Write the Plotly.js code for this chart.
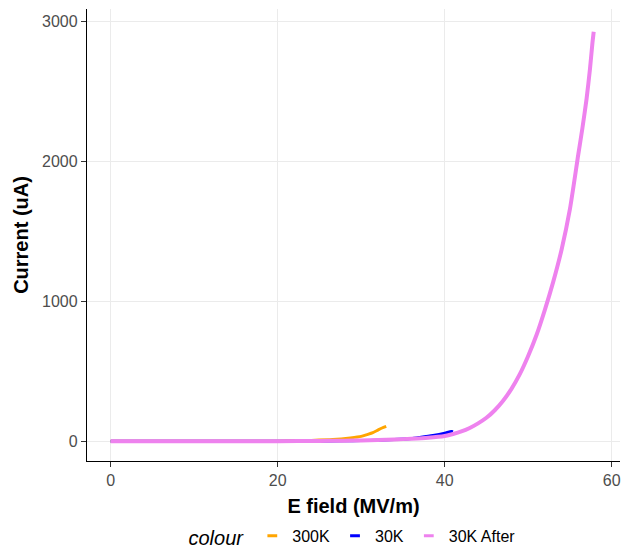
<!DOCTYPE html>
<html>
<head>
<meta charset="utf-8">
<script src="https://cdn.plot.ly/plotly-3.0.1.min.js"></script>
<style>html,body{margin:0;padding:0;background:#fff;}#chart{width:621px;height:552px;}</style>
</head>
<body>
<div id="chart"></div>
<script>
// Series
const seriesNames = ["300K", "30K", "30K After"];
const seriesColors = ["#FFA500", "#0000FF", "#EE82EE"];

const e300K = [0, 5, 10, 15, 20, 22, 24, 26.6, 28.7, 30, 30.7, 31.4, 32, 32.5, 33];
const i300K = [0, 0, 0, 0.3, 1, 3, 6, 12, 24, 35, 48, 62, 80, 95, 107];

const e30K = [0, 5, 10, 15, 20, 24, 28, 30, 32, 34.6, 36, 37, 38.6, 40, 40.8, 41];
const i30K = [0, 0, 0, 0, 0.3, 1, 3, 5, 8, 14, 20, 28, 42, 58, 70, 68];

const e30KAfter = [0, 5, 10, 15, 20, 25, 28, 30, 32, 34, 36, 38, 40, 41, 42, 43, 44, 45, 46, 47, 48, 49, 50, 51, 52, 53, 54, 55, 56, 56.5, 57, 57.4, 57.7, 57.85];
const i30KAfter = [0, 0, 0, 0, 0.5, 2, 4, 6, 9, 13, 18, 25, 38, 52, 70, 95, 128, 168, 222, 290, 375, 480, 610, 760, 940, 1140, 1370, 1660, 2050, 2240, 2450, 2660, 2850, 2929];

const xTicks = [0, 20, 40, 60];
const yTicks = [0, 1000, 2000, 3000];

const xs = [e300K, e30K, e30KAfter];
const ys = [i300K, i30K, i30KAfter];
const widths = [3, 3, 4];

const traces = [];
for (let k = 0; k < 3; k++) {
  traces.push({
    x: xs[k], y: ys[k], type: "scatter", mode: "lines",
    line: {color: seriesColors[k], width: widths[k], shape: "spline", smoothing: 0.6},
    name: seriesNames[k], showlegend: false, hoverinfo: "skip"
  });
}
for (let k = 0; k < 3; k++) {
  traces.push({
    x: [null], y: [null], type: "scatter", mode: "markers",
    marker: {symbol: "line-ew", size: 7, color: seriesColors[k], line: {color: seriesColors[k], width: 3}},
    name: seriesNames[k], showlegend: true
  });
}

const font = "Liberation Sans, Arial, Helvetica, sans-serif";
const layout = {
  width: 621, height: 552,
  margin: {l: 87, r: 1, t: 9, b: 91, autoexpand: false},
  paper_bgcolor: "#fff", plot_bgcolor: "#fff",
  font: {family: font, color: "#000"},
  showlegend: true,
  xaxis: {
    range: [-2.84, 61.0], tickvals: xTicks, ticktext: xTicks.map(String),
    showgrid: true, gridcolor: "#EBEBEB", gridwidth: 1, zeroline: false,
    showline: true, linecolor: "#000", linewidth: 1.2,
    ticks: "outside", ticklen: 5, tickcolor: "#333", tickwidth: 1.2,
    tickfont: {size: 16, color: "#4D4D4D", family: font},
    title: {text: "<b>E field (MV/m)</b>", font: {size: 20, color: "#000", family: font}, standoff: 10},
    automargin: false, fixedrange: true
  },
  yaxis: {
    range: [-141, 3091], tickvals: yTicks, ticktext: yTicks.map(String),
    showgrid: true, gridcolor: "#EBEBEB", gridwidth: 1, zeroline: false,
    showline: true, linecolor: "#000", linewidth: 1.2,
    ticks: "outside", ticklen: 5, tickcolor: "#333", tickwidth: 1.2,
    tickfont: {size: 16, color: "#4D4D4D", family: font},
    title: {text: "<b>Current (uA)</b>", font: {size: 20, color: "#000", family: font}, standoff: 8},
    automargin: false, fixedrange: true
  },
  legend: {
    orientation: "h", x: 0.5, xanchor: "center", y: -0.128, yanchor: "top",
    font: {size: 16, color: "#000", family: font},
    title: {text: "colour", side: "left", font: {size: 20, style: "italic", color: "#000", family: font}},
    bgcolor: "rgba(0,0,0,0)", itemwidth: 30
  }
};

Plotly.newPlot("chart", traces, layout, {staticPlot: true, displayModeBar: false});
</script>
</body>
</html>
